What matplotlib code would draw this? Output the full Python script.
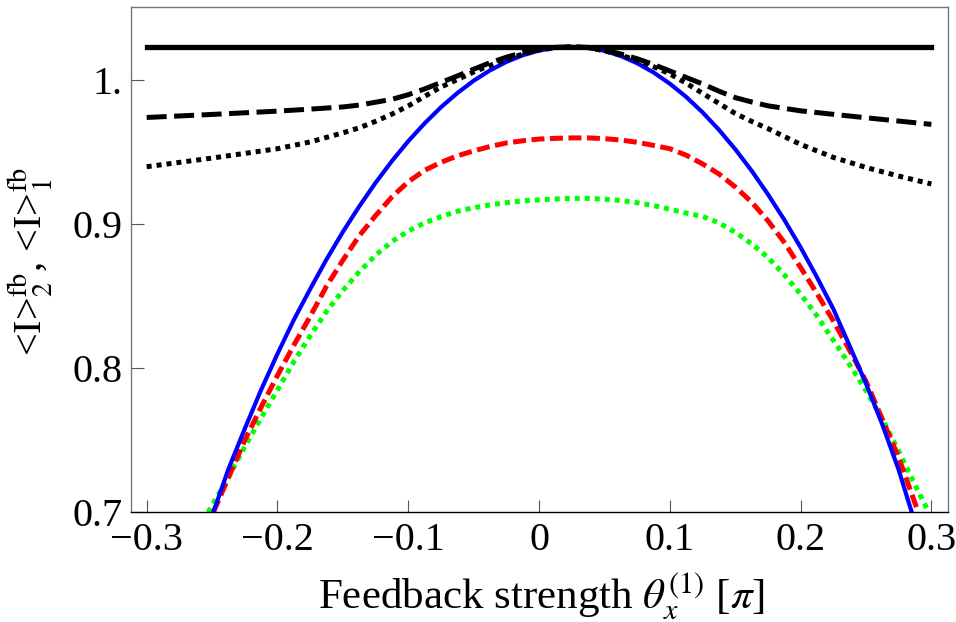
import matplotlib
matplotlib.use("Agg")
from matplotlib import pyplot as plt

plt.rcParams['font.family'] = ['Liberation Serif', 'DejaVu Serif']
plt.rcParams['mathtext.fontset'] = 'stix'

# curves (x in units of pi)
x_flat = [-0.3, 0.3]
y_flat = [1.0233, 1.0233]

x_dashed = [-0.3, -0.25, -0.2, -0.175, -0.15, -0.1375, -0.125, -0.1125, -0.1, -0.0875, -0.075, -0.0625,
            -0.05, -0.0375, -0.025, -0.0125, 0.0, 0.0125, 0.025, 0.0375, 0.05, 0.0625, 0.075, 0.0875,
            0.1, 0.1125, 0.125, 0.1375, 0.15, 0.1625, 0.175, 0.2, 0.25, 0.3]
y_dashed = [0.9742, 0.9763, 0.9786, 0.980, 0.9815, 0.9828, 0.9848, 0.9868, 0.990, 0.994, 0.9985, 1.003,
            1.0077, 1.0122, 1.016, 1.0193, 1.0215, 1.0229, 1.0233, 1.0229, 1.021, 1.0183, 1.015, 1.011,
            1.0065, 1.002, 0.9975, 0.9925, 0.988, 0.985, 0.9823, 0.9788, 0.974, 0.9694]

x_dotted = [-0.3, -0.25, -0.2, -0.175, -0.15, -0.1375, -0.125, -0.1125, -0.1, -0.0875, -0.075, -0.0625,
            -0.05, -0.0375, -0.025, -0.0125, 0.0, 0.0125, 0.025, 0.0375, 0.05, 0.0625, 0.075, 0.0875,
            0.1, 0.1125, 0.125, 0.1375, 0.15, 0.1625, 0.175, 0.2, 0.225, 0.25, 0.275, 0.3]
y_dotted = [0.940, 0.946, 0.9525, 0.9572, 0.9635, 0.967, 0.9715, 0.9765, 0.9822, 0.9888, 0.9953, 1.0005,
            1.0058, 1.0103, 1.0145, 1.0182, 1.021, 1.0227, 1.0233, 1.0227, 1.0205, 1.0175, 1.0138, 1.0095,
            1.0045, 0.998, 0.991, 0.984, 0.977, 0.9715, 0.9665, 0.9555, 0.9465, 0.9395, 0.9335, 0.928]

x_blue = [-0.249, -0.2375, -0.225, -0.2125, -0.2, -0.1875, -0.175, -0.1625, -0.15, -0.1375, -0.125,
          -0.1125, -0.1, -0.0875, -0.075, -0.0625, -0.05, -0.0375, -0.025, -0.0125, 0.0, 0.0125, 0.025,
          0.0375, 0.05, 0.0625, 0.075, 0.0875, 0.1, 0.1125, 0.125, 0.1375, 0.15, 0.1625, 0.175, 0.1875,
          0.2, 0.2125, 0.225, 0.2375, 0.25, 0.2625, 0.275, 0.285]
y_blue = [0.700, 0.730, 0.758, 0.785, 0.810, 0.8336, 0.855, 0.8756, 0.8947, 0.9124, 0.9288,
          0.9439, 0.9577, 0.9701, 0.9813, 0.9911, 0.9997, 1.0069, 1.0128, 1.0174, 1.0207, 1.0226, 1.0233,
          1.0226, 1.0205, 1.0169, 1.0119, 1.0055, 0.9977, 0.9885, 0.9778, 0.9657, 0.9522, 0.9373, 0.9209,
          0.9032, 0.884, 0.8633, 0.8413, 0.8156, 0.7894, 0.761, 0.7295, 0.700]

x_red = [-0.249, -0.2375, -0.225, -0.2125, -0.2, -0.1875, -0.175, -0.1625, -0.15, -0.1375, -0.125,
         -0.1125, -0.1, -0.0875, -0.075, -0.0625, -0.05, -0.0375, -0.025, -0.0125, 0.0, 0.0125, 0.025,
         0.0375, 0.05, 0.0625, 0.075, 0.0875, 0.1, 0.1125, 0.125, 0.1375, 0.15, 0.1625, 0.175, 0.1875,
         0.2, 0.2125, 0.225, 0.2375, 0.25, 0.2625, 0.275, 0.29]
y_red = [0.700, 0.724, 0.750, 0.773, 0.795, 0.816, 0.836, 0.857, 0.875, 0.892, 0.906,
         0.919, 0.9295, 0.9375, 0.943, 0.9475, 0.951, 0.954, 0.9565, 0.958, 0.9592, 0.9597, 0.960,
         0.960, 0.9595, 0.9585, 0.957, 0.9548, 0.9525, 0.948, 0.942, 0.935, 0.926, 0.9155, 0.9025, 0.8875,
         0.870, 0.852, 0.833, 0.8125, 0.791, 0.7646, 0.738, 0.700]

x_green = [-0.253, -0.2375, -0.225, -0.2125, -0.2, -0.1875, -0.175, -0.1625, -0.15, -0.1375, -0.125,
           -0.1125, -0.1, -0.0875, -0.075, -0.0625, -0.05, -0.0375, -0.025, -0.0125, 0.0, 0.0125, 0.025,
           0.0375, 0.05, 0.0625, 0.075, 0.0875, 0.1, 0.1125, 0.125, 0.1375, 0.15, 0.1625, 0.175, 0.1875,
           0.2, 0.2125, 0.225, 0.2375, 0.25, 0.2625, 0.275, 0.2875, 0.298]
y_green = [0.700, 0.7245, 0.7455, 0.7655, 0.785, 0.8045, 0.8225, 0.8395, 0.854, 0.867, 0.8785,
           0.888, 0.8953, 0.901, 0.9053, 0.909, 0.9115, 0.9135, 0.915, 0.9163, 0.917, 0.9176, 0.918,
           0.918, 0.9175, 0.9165, 0.915, 0.913, 0.9105, 0.9078, 0.9055, 0.901, 0.8945, 0.8865, 0.877, 0.865,
           0.8515, 0.8365, 0.8195, 0.8025, 0.7845, 0.765, 0.7425, 0.719, 0.700]

yticks = [0.7, 0.8, 0.9, 1.0]
ytick_labels = ['0.7', '0.8', '0.9', '1.']
xticks = [-0.3, -0.2, -0.1, 0.0, 0.1, 0.2, 0.3]
xtick_labels = ['\u22120.3', '\u22120.2', '\u22120.1', '0', '0.1', '0.2', '0.3']

fig = plt.figure(figsize=(9.56, 6.22), dpi=100)
ax = fig.add_axes([0.137, 0.1764, 0.8546, 0.8123])

ax.plot(x_green, y_green, color=(0, 1, 0), lw=3.6, dashes=(1.0, 1.0))
ax.plot(x_red, y_red, color=(1, 0, 0), lw=3.6, dashes=(2.6, 1.1))
ax.plot(x_blue, y_blue, color=(0, 0, 1), lw=3.0)
ax.plot(x_dotted, y_dotted, color='black', lw=3.6, dashes=(1.0, 1.0))
ax.plot(x_dashed, y_dashed, color='black', lw=3.6, dashes=(4.0, 1.5))
ax.plot(x_flat, y_flat, color='black', lw=3.8)

ax.set_xlim(-0.312, 0.3127)
ax.set_ylim(0.7, 1.0509)
ax.set_xticks(xticks)
ax.set_xticklabels(xtick_labels)
ax.set_yticks(yticks)
ax.set_yticklabels(ytick_labels)
ax.tick_params(direction='in', length=9, width=0.8, color='#555555', labelsize=29)
ax.tick_params(axis='x', pad=7)
ax.tick_params(axis='y', pad=6)

for side in ['top', 'right', 'left']:
    ax.spines[side].set_color('#777777')
ax.spines['bottom'].set_color('black')
for s in ax.spines.values():
    s.set_linewidth(1.0)

ax.set_xlabel(r'Feedback strength $\theta_x^{(1)}$ [$\pi$]', fontsize=31)
ax.xaxis.set_label_coords(0.503, -0.115)
ax.set_ylabel(r'<I>${}_2^{\mathrm{fb}}$, <I>${}_1^{\mathrm{fb}}$', fontsize=29)
ax.yaxis.set_label_coords(-0.093, 0.497)

fig.savefig('out.png', dpi=100)
